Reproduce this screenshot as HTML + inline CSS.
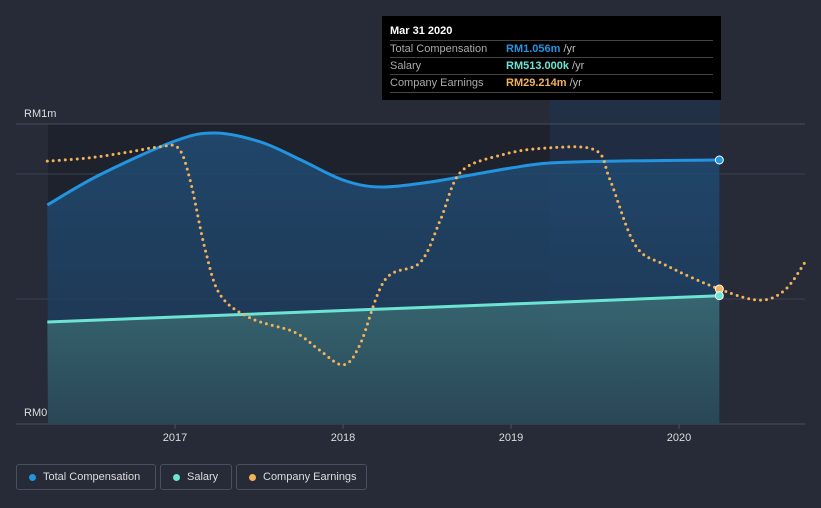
<!DOCTYPE html>
<html><head><meta charset="utf-8"><style>
body{margin:0;background:#262b37;font-family:"Liberation Sans",sans-serif;}
#wrap{position:relative;width:821px;height:508px;overflow:hidden;}
.tt{position:absolute;left:382px;top:16px;width:339px;height:84px;background:#000;color:#fff;font-size:11px;}
.tt .row{position:absolute;left:8px;right:8px;border-top:1px solid #444;height:17px;line-height:17px;color:#aaa;white-space:nowrap}
.tt .v{position:absolute;left:116px;top:0;font-weight:bold;}
.tt .v span{color:#bbb;font-weight:normal}
.leg{position:absolute;top:464px;height:26px;border:1px solid #4a4f5c;border-radius:3px;color:#ddd;font-size:11px;line-height:24px;padding:0 0 0 26px;box-sizing:border-box;white-space:nowrap}
.leg i{position:absolute;left:12px;top:9px;width:7px;height:7px;border-radius:50%}
</style></head><body>
<div id="wrap">
<svg id="svg" width="821" height="508"></svg>
<div class="tt">
<div style="position:absolute;left:8px;top:9px;font-weight:bold;font-size:11px">Mar 31 2020</div>
<div class="row" style="top:24px">Total Compensation<div class="v" style="color:#2394df">RM1.056m <span>/yr</span></div></div>
<div class="row" style="top:41px">Salary<div class="v" style="color:#6de3d3">RM513.000k <span>/yr</span></div></div>
<div class="row" style="top:58px;border-bottom:1px solid #444">Company Earnings<div class="v" style="color:#f2b25a">RM29.214m <span>/yr</span></div></div>
</div>
<div class="leg" style="left:16px;width:140px"><i style="background:#2394df"></i>Total Compensation</div>
<div class="leg" style="left:160px;width:72px"><i style="background:#6de3d3"></i>Salary</div>
<div class="leg" style="left:236px;width:131px"><i style="background:#f2b25a"></i>Company Earnings</div>
</div>
<script>
const compYears=[2016.24,2016.55,2017.0,2017.24,2017.51,2017.75,2018.0,2018.22,2018.52,2018.76,2019.0,2019.23,2019.65,2020.24];
const compValues=[876,996,1132,1164,1128,1056,976,948,968,996,1024,1044,1052,1056];
const salaryYears=[2016.24,2017.24,2018.24,2019.24,2020.24];
const salaryValues=[408,434,460,486,513];
const earnYears=[2016.24,2016.49,2016.73,2016.91,2017.02,2017.09,2017.18,2017.27,2017.45,2017.71,2017.86,2018.0,2018.1,2018.25,2018.46,2018.58,2018.7,2018.94,2019.2,2019.5,2019.59,2019.74,2019.92,2020.24,2020.48,2020.63,2020.75];
const earnValues=[56.9,57.6,58.9,60,59.7,52.8,37.7,27.9,22.9,19.9,16,12.8,17.1,31.2,35,44.2,54.5,58.2,59.7,59.3,52.8,38.7,34.4,29.2,26.8,29,35];
const xTicks=[2017,2018,2019,2020];
const NS="http://www.w3.org/2000/svg",svg=document.getElementById('svg');
const X=y=>175+(y-2017)*168, Y=v=>424-v*0.25, YE=v=>424-v*4.62;
function el(t,a,name){const e=document.createElementNS(NS,t);for(const k in a)e.setAttribute(k,a[k]);


svg.appendChild(e);return e;}
function path(p){let d=`M${p[0][0]},${p[0][1]}`;for(let i=0;i<p.length-1;i++){const p0=p[i-1]||p[i],p1=p[i],p2=p[i+1],p3=p[i+2]||p2;
d+=`C${p1[0]+(p2[0]-p0[0])/6},${p1[1]+(p2[1]-p0[1])/6} ${p2[0]-(p3[0]-p1[0])/6},${p2[1]-(p3[1]-p1[1])/6} ${p2[0]},${p2[1]}`;}return d;}
const defs=el('defs',{},'defs');
defs.innerHTML='<linearGradient id="gc" x1="0" y1="0" x2="0" y2="1"><stop offset="0" stop-color="#214a70"/><stop offset="1" stop-color="#1d3450"/></linearGradient><linearGradient id="gs" x1="0" y1="0" x2="0" y2="1"><stop offset="0" stop-color="#3a6c74"/><stop offset="1" stop-color="#2c4a57"/></linearGradient>';
el('rect',{x:48,y:124,width:672,height:300,fill:'#1e222c'},'plot-background');
el('rect',{x:550,y:100,width:170,height:324,fill:'#1f3450',opacity:0.6},'highlight-region');
[124,174,299].forEach((g,i)=>el('line',{x1:16,x2:805,y1:g,y2:g,stroke:i?'#3a4050':'#4a4f5c','stroke-width':1},'gridline'));
el('line',{x1:16,x2:805,y1:424,y2:424,stroke:'#4a4f5c'},'x-axis');
const cp=compYears.map((y,i)=>[X(y),Y(compValues[i])]);
el('path',{d:path(cp)+`L${X(2020.24)},424L48,424Z`,fill:'url(#gc)',opacity:0.9},'total-compensation-area');
const sp=salaryYears.map((y,i)=>[X(y),Y(salaryValues[i])]);
el('path',{d:path(sp)+`L${X(2020.24)},424L48,424Z`,fill:'url(#gs)',opacity:0.85},'salary-area');
el('path',{d:path(cp),fill:'none',stroke:'#2394df','stroke-width':3},'total-compensation-line');
el('path',{d:path(sp),fill:'none',stroke:'#6de3d3','stroke-width':3},'salary-line');
const ep=earnYears.map((y,i)=>[X(y),YE(earnValues[i])]);
el('path',{d:path(ep),fill:'none',stroke:'#f2b25a','stroke-width':3,'stroke-dasharray':'0 6','stroke-linecap':'round'},'company-earnings-line');
const last=compYears.length-1;
el('circle',{cx:cp[last][0],cy:cp[last][1],r:4,fill:'#2394df',stroke:'#fff','stroke-width':1},'total-compensation-marker');
el('circle',{cx:X(2020.24),cy:YE(29.214),r:4,fill:'#f2b25a',stroke:'#fff','stroke-width':1},'earnings-marker');
el('circle',{cx:sp[4][0],cy:sp[4][1],r:4,fill:'#6de3d3',stroke:'#fff','stroke-width':1},'salary-marker');
xTicks.forEach(t=>{el('line',{x1:X(t),x2:X(t),y1:424,y2:429,stroke:'#4a4f5c'},'x-tick');
const tx=el('text',{x:X(t),y:441,fill:'#ddd','font-size':11,'text-anchor':'middle','font-family':'Liberation Sans'},'x-tick-label');tx.textContent=t;});
const l1=el('text',{x:24,y:117,fill:'#ddd','font-size':11,'font-family':'Liberation Sans'},'y-label-top');l1.textContent='RM1m';
const l0=el('text',{x:24,y:416,fill:'#ddd','font-size':11,'font-family':'Liberation Sans'},'y-label-zero');l0.textContent='RM0';
</script>
</body></html>
